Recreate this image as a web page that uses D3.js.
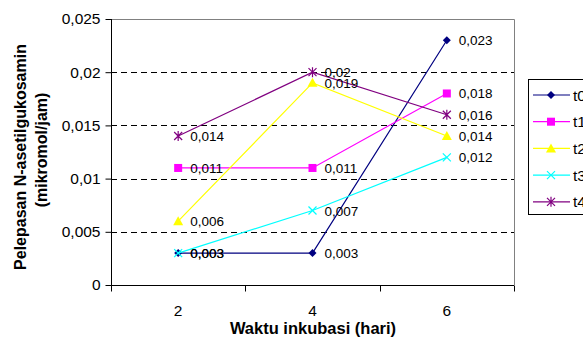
<!DOCTYPE html>
<html>
<head>
<meta charset="utf-8">
<script src="https://cdn.jsdelivr.net/npm/d3@7"></script>
<style>
body{margin:0;background:#fff;}
text{font-family:Arial,"Liberation Sans",sans-serif;}
</style>
</head>
<body>
<svg id="chart" width="583" height="337"></svg>
<script>
// data
var days = ["2","4","6"];
var seriesNames = ["t0","t1","t2","t3","t4"];
var t0 = [0.003,0.003,0.023];
var t1 = [0.011,0.011,0.018];
var t2 = [0.006,0.019,0.014];
var t3 = [0.003,0.007,0.012];
var t4 = [0.014,0.02,0.016];
var yTicks = [0,0.005,0.01,0.015,0.02,0.025];

var colors = ["#000080","#ff00ff","#ffff00","#00ffff","#800080"];
var shapes = ["diamond","square","triangle","x","star"];
var allSeries = [t0,t1,t2,t3,t4];

var svg = d3.select("#chart");
var pLeft = 111, pRight = 514, pTop = 19, pBottom = 285;

var x = d3.scaleBand().domain(days).range([pLeft,pRight]);
var y = d3.scaleLinear().domain([0,0.025]).range([pBottom,pTop]);
var fmt = function(v){ return String(+v.toFixed(3)).replace(".",","); };

// plot border (gray top/right)
svg.append("path")
	.attr("d","M"+pLeft+","+(pTop+0.5)+"H"+(pRight+0.5)+"V"+pBottom)
	.attr("fill","none").attr("stroke","#808080").attr("stroke-width",1);

// gridlines
svg.selectAll(".grid").data(yTicks.slice(1,5)).enter().append("line")
	.attr("class","grid")
	.attr("x1",pLeft).attr("x2",pRight)
	.attr("y1",function(d){return Math.round(y(d))+0.5;})
	.attr("y2",function(d){return Math.round(y(d))+0.5;})
	.attr("stroke","#000")
	.attr("stroke-dasharray","6,4").attr("stroke-width",1);

// y axis
var yAxis = d3.axisLeft(y).tickValues(yTicks).tickSize(6).tickPadding(5).tickFormat(fmt);
var gy = svg.append("g").attr("transform","translate("+(pLeft+0.5)+",0)").call(yAxis);
gy.select(".domain").attr("d","M0,"+pTop+"V"+(pBottom+0.5));
gy.selectAll("text").attr("font-size",15.5).attr("font-family","Arial").attr("fill","#000");

// x axis, ticks on the category boundaries
var gx = svg.append("g").attr("transform","translate(0,"+(pBottom+0.5)+")");
gx.append("line").attr("x1",pLeft).attr("x2",pRight).attr("stroke","#000");
var bounds = [pLeft].concat(days.map(function(d){return x(d)+x.bandwidth();}));
gx.selectAll(".tk").data(bounds).enter().append("line")
	.attr("x1",function(d){return Math.round(d)+0.5;}).attr("x2",function(d){return Math.round(d)+0.5;})
	.attr("y1",0).attr("y2",6).attr("stroke","#000");
gx.selectAll(".lbl").data(days).enter().append("text")
	.attr("x",function(d){return x(d)+x.bandwidth()/2;})
	.attr("y",30).attr("text-anchor","middle").attr("font-size",15.5).text(function(d){return d;});

// titles
svg.append("text").attr("x",313).attr("y",334).attr("text-anchor","middle")
	.attr("font-size",16.5).attr("font-weight","bold").text("Waktu inkubasi (hari)");
var yt = svg.append("text").attr("transform","translate(26,157) rotate(-90)")
	.attr("text-anchor","middle").attr("font-size",16).attr("font-weight","bold");
yt.append("tspan").attr("x",0).attr("dy",0).text("Pelepasan N-asetilgukosamin");
yt.append("tspan").attr("x",0).attr("y",0).attr("dx",7).attr("dy",21).text("(mikromol/jam)");

function marker(g,shape,color){
	if(shape==="diamond") g.append("path").attr("d","M0,-4L4,0L0,4L-4,0Z").attr("fill",color);
	else if(shape==="square") g.append("rect").attr("x",-4).attr("y",-4).attr("width",8).attr("height",8).attr("fill",color);
	else if(shape==="triangle") g.append("path").attr("d","M0,-5L5,4L-5,4Z").attr("fill",color);
	else if(shape==="x") g.append("path").attr("d","M-4,-4L4,4M-4,4L4,-4").attr("stroke",color).attr("stroke-width",1.2);
	else g.append("path").attr("d","M-4,-4L4,4M-4,4L4,-4M0,-5V5").attr("stroke",color).attr("stroke-width",1.2);
}

var line = d3.line()
	.x(function(d,i){return x(days[i])+x.bandwidth()/2;})
	.y(function(d){return y(d);});

allSeries.forEach(function(vals,s){
	var g = svg.append("g");
	g.append("path").attr("d",line(vals)).attr("fill","none")
		.attr("stroke",colors[s]).attr("stroke-width",1.2);
	vals.forEach(function(v,i){
		var px = x(days[i])+x.bandwidth()/2, py = y(v);
		marker(g.append("g").attr("transform","translate("+px+","+py+")"),shapes[s],colors[s]);
	});
});
// value labels on top
allSeries.forEach(function(vals,s){
	svg.selectAll(".val"+s).data(vals).enter().append("text")
		.attr("x",function(d,i){return x(days[i])+x.bandwidth()/2+12;})
		.attr("y",function(d){return y(d)+5;})
		.attr("font-size",13.5).attr("fill","#000").text(fmt);
});

// legend
var lg = svg.append("g").attr("transform","translate(528,79)");
lg.append("rect").attr("x",0.5).attr("y",0.5).attr("width",70).attr("height",135)
	.attr("fill","#fff").attr("stroke","#000");
seriesNames.forEach(function(n,s){
	var ry = 16 + s*26.7;
	lg.append("line").attr("x1",5).attr("x2",42).attr("y1",ry).attr("y2",ry)
		.attr("stroke",colors[s]).attr("stroke-width",1.2);
	marker(lg.append("g").attr("transform","translate(23,"+ry+")"),shapes[s],colors[s]);
	lg.append("text").attr("x",45).attr("y",ry+5.5).attr("font-size",15.5).text(n);
});
</script>
</body>
</html>
